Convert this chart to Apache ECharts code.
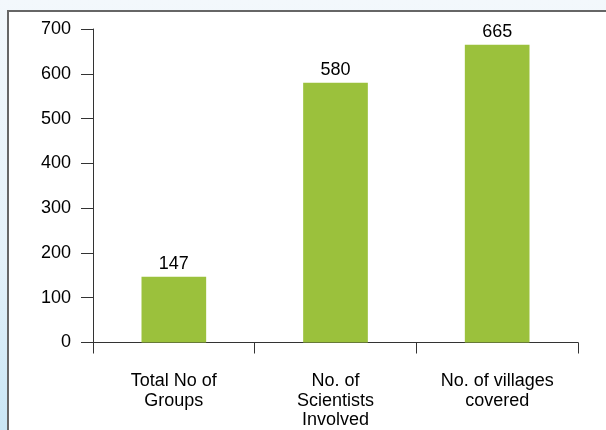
<!DOCTYPE html>
<html><head><meta charset="utf-8">
<script src="https://cdn.jsdelivr.net/npm/echarts@6/dist/echarts.min.js"></script>
<style>
html,body{margin:0;padding:0;width:606px;height:430px;overflow:hidden;}
body{background:linear-gradient(to bottom,#f3f8fc 0%,#e4f1f9 60%,#c9e6f5 100%);position:relative;}
#frame{position:absolute;left:7px;top:10px;width:620px;height:440px;background:#fff;border-left:2px solid #666;border-top:2px solid #666;}
#chart{position:absolute;left:0;top:0;width:606px;height:430px;}
</style></head><body>
<div id="frame"></div>
<div id="chart"></div>
<script>
const categories = ["Total No of\nGroups", "No. of\nScientists\nInvolved", "No. of villages\ncovered"];
const values = [147, 580, 665];
const yTicks = [0, 100, 200, 300, 400, 500, 600, 700];

const chart = echarts.init(document.getElementById('chart'), null, {renderer:'canvas'});
chart.setOption({
  backgroundColor: 'transparent',
  animation: false,
  grid: {left: 93, right: 28, top: 29, bottom: 87},
  xAxis: {
    type: 'category', data: categories, boundaryGap: true,
    axisLine: {lineStyle: {color: '#333', width: 1}},
    axisTick: {show: true, length: 11, lineStyle: {color: '#333'}},
    axisLabel: {color: '#000', fontSize: 18, fontFamily: 'Liberation Sans, Arial', lineHeight: 19.5, margin: 29, interval: 0}
  },
  yAxis: {
    type: 'value', min: yTicks[0], max: yTicks[yTicks.length-1], interval: 100,
    axisLine: {show: true, lineStyle: {color: '#333', width: 1}},
    axisTick: {show: true, length: 12, lineStyle: {color: '#333'}},
    splitLine: {show: false},
    axisLabel: {color: '#000', fontSize: 18, fontFamily: 'Liberation Sans, Arial', margin: 22}
  },
  series: [{
    type: 'bar', data: values, barWidth: '40%',
    itemStyle: {color: '#9bc13c'},
    label: {show: true, position: 'top', distance: 4, color: '#000', fontSize: 18, fontFamily: 'Liberation Sans, Arial'}
  }]
});
</script>
</body></html>
